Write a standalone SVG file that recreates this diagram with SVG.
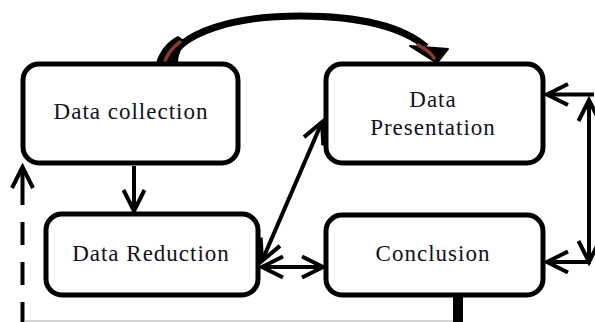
<svg xmlns="http://www.w3.org/2000/svg" width="595" height="322" viewBox="0 0 595 322">
  <style>
    .box { fill: #fff; stroke: #000; stroke-width: 5; }
    .lbl { font-family: "Liberation Serif", "Times New Roman", serif; font-size: 23px; fill: #111122; text-anchor: middle; letter-spacing: 1px; }
    .con { fill: none; stroke: #000; stroke-width: 4; }
    .sliver { fill: none; stroke: #8a3a30; stroke-width: 3.5; stroke-linecap: round; }
  </style>
  <defs>
    <marker id="ah" markerUnits="userSpaceOnUse" viewBox="-24 -14 28 28" markerWidth="28" markerHeight="28" refX="0" refY="0" orient="auto-start-reverse">
      <path d="M-21,-10.5 L0,0 L-21,10.5" fill="none" stroke="#000" stroke-width="4" stroke-linejoin="miter"/>
    </marker>
  </defs>

  <rect width="595" height="322" fill="#fff"/>

  <g id="connectors">
    <!-- curved arrow from Data collection to Data Presentation -->
    <path d="M169,63 C178,32 235,16 300,16 C362,16 404,28 426,47" fill="none" stroke="#000" stroke-width="7"/>
    <path d="M156,63 C160,50 168,41 178,36 L187,42 C181,48 178,55 178,63 Z" fill="#000"/>
    <path d="M410,46 L437,63 L448,49 Z" fill="#000" stroke="#000" stroke-width="2" stroke-linejoin="round"/>
    <path class="sliver" d="M165,61 C168,53 173,47 180,42"/>
    <path class="sliver" d="M418,45 C426,49 431,53 434,58"/>
    <!-- Data collection -> Data Reduction -->
    <line class="con" x1="134" y1="166" x2="134" y2="211" marker-end="url(#ah)"/>
    <!-- dashed return -->
    <line class="con" x1="22.5" y1="322" x2="22.5" y2="167" stroke-dasharray="20 17 23 17 23 17 40" marker-end="url(#ah)"/>
    <!-- diagonal double arrow -->
    <line class="con" x1="262" y1="261" x2="322" y2="122" marker-start="url(#ah)" marker-end="url(#ah)"/>
    <!-- horizontal double arrow -->
    <line class="con" x1="262" y1="267" x2="323" y2="267" marker-start="url(#ah)" marker-end="url(#ah)"/>
    <!-- right side loop -->
    <line class="con" x1="594" y1="94.5" x2="547" y2="94.5" marker-end="url(#ah)"/>
    <line class="con" x1="589" y1="262" x2="589" y2="100" marker-start="url(#ah)" marker-end="url(#ah)"/>
    <line class="con" x1="591" y1="262" x2="547" y2="262" marker-end="url(#ah)"/>
    <!-- bottom thick stub and thin line -->
    <line x1="458" y1="296" x2="458" y2="322" stroke="#000" stroke-width="10"/>
    <line x1="24" y1="321" x2="453" y2="321" stroke="#aaa" stroke-width="1"/>
  </g>

  <g id="data-collection">
    <rect class="box" x="23" y="64" width="215" height="99" rx="16"/>
    <text class="lbl" x="131" y="119">Data collection</text>
  </g>
  <g id="data-presentation">
    <rect class="box" x="326" y="64" width="217" height="99" rx="16"/>
    <text class="lbl" x="433" y="107">Data</text>
    <text class="lbl" x="433" y="135">Presentation</text>
  </g>
  <g id="data-reduction">
    <rect class="box" x="46" y="214" width="212" height="81" rx="16"/>
    <text class="lbl" x="151" y="261">Data Reduction</text>
  </g>
  <g id="conclusion">
    <rect class="box" x="326" y="215" width="217" height="80" rx="16"/>
    <text class="lbl" x="433" y="261">Conclusion</text>
  </g>
</svg>
